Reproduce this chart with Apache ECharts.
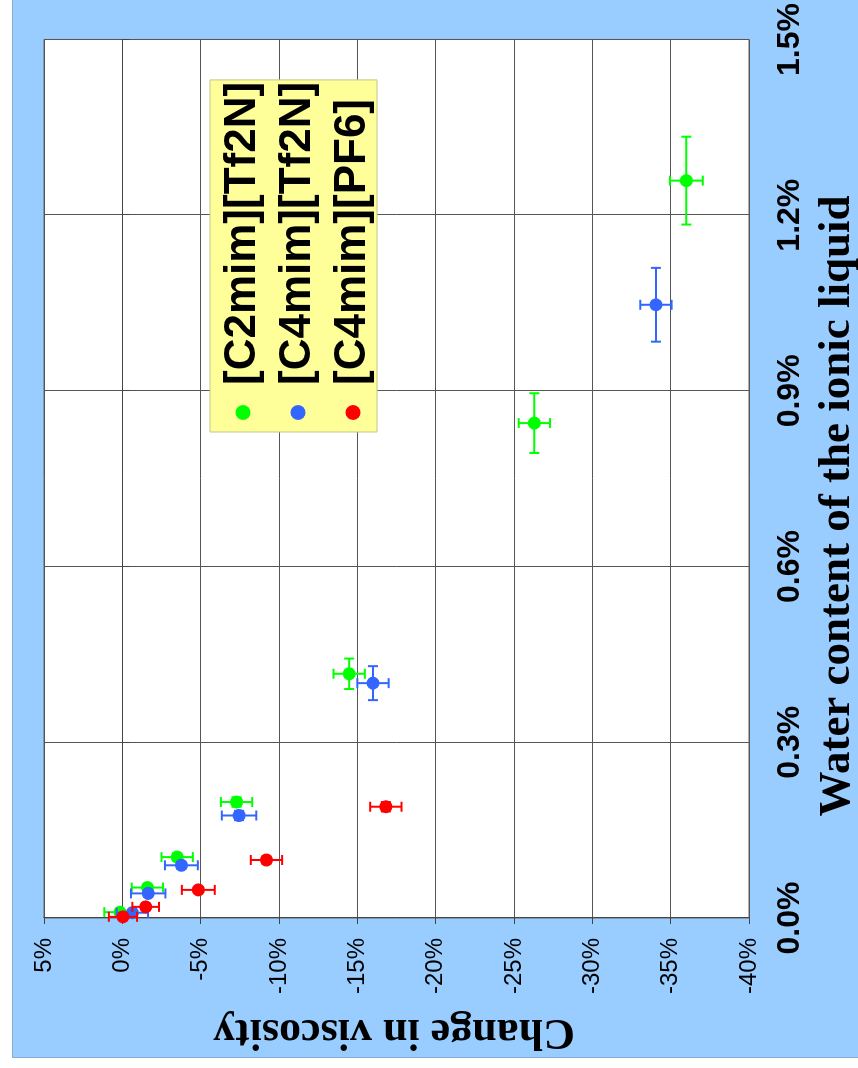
<!DOCTYPE html>
<html>
<head>
<meta charset="utf-8">
<script src="https://cdn.jsdelivr.net/npm/echarts@6/dist/echarts.min.js"></script>
<style>
  html, body { margin: 0; padding: 0; overflow: hidden; background: #fff; width: 858px; height: 1068px; }
  /* The chart is laid out landscape and turned a quarter turn counter-clockwise onto the page */
  #chart { position: absolute; left: 0; top: 0; width: 1068px; height: 858px;
           transform-origin: 0 0; transform: translate(0, 1068px) rotate(-90deg); }
</style>
</head>
<body>
<div id="chart"></div>
<script>
// Ionic liquids
const seriesNames = ['[C2mim][Tf2N]', '[C4mim][Tf2N]', '[C4mim][PF6]'];
const seriesColors = ['#00ff00', '#3366ff', '#ff0000'];

// [C2mim][Tf2N]: water content (%), change in viscosity (%), and their error ranges
const c2Tf2nWater    = [0.010, 0.052, 0.104, 0.198, 0.417, 0.845, 1.259];
const c2Tf2nVisc     = [0.15, -1.60, -3.50, -7.29, -14.48, -26.30, -36.00];
const c2Tf2nWaterErr = [0.004, 0.005, 0.006, 0.008, 0.026, 0.051, 0.075];
const c2Tf2nViscErr  = [1.0, 1.0, 1.0, 1.0, 1.0, 1.0, 1.05];

// [C4mim][Tf2N]
const c4Tf2nWater    = [0.009, 0.042, 0.090, 0.175, 0.401, 1.047];
const c4Tf2nVisc     = [-0.64, -1.65, -3.77, -7.45, -16.00, -34.06];
const c4Tf2nWaterErr = [0.004, 0.005, 0.006, 0.008, 0.029, 0.063];
const c4Tf2nViscErr  = [1.0, 1.1, 1.05, 1.1, 1.0, 1.0];

// [C4mim][PF6]
const c4Pf6Water     = [0.002, 0.019, 0.048, 0.099, 0.190];
const c4Pf6Visc      = [-0.04, -1.49, -4.85, -9.20, -16.82];
const c4Pf6WaterErr  = [0.003, 0.004, 0.005, 0.006, 0.008];
const c4Pf6ViscErr   = [0.9, 0.85, 1.05, 1.0, 1.0];

// Axis tick labels
const waterTickLabels = ['0.0%', '0.3%', '0.6%', '0.9%', '1.2%', '1.5%'];
const viscTickLabels  = ['-40%', '-35%', '-30%', '-25%', '-20%', '-15%', '-10%', '-5%', '0%', '5%'];

const groups = [
  [c2Tf2nWater, c2Tf2nVisc, c2Tf2nWaterErr, c2Tf2nViscErr],
  [c4Tf2nWater, c4Tf2nVisc, c4Tf2nWaterErr, c4Tf2nViscErr],
  [c4Pf6Water,  c4Pf6Visc,  c4Pf6WaterErr,  c4Pf6ViscErr]
];

const CAP = 5;
function errorBars(params, api) {
  const w = api.value(0), v = api.value(1), ew = api.value(2), ev = api.value(3);
  const l = api.coord([w - ew, v]), r = api.coord([w + ew, v]);
  const t = api.coord([w, v + ev]), b = api.coord([w, v - ev]);
  const style = { stroke: api.visual('color'), lineWidth: 2 };
  const seg = (x1, y1, x2, y2) => ({ type: 'line', shape: { x1, y1, x2, y2 }, style });
  return {
    type: 'group',
    children: [
      seg(l[0], l[1], r[0], r[1]),
      seg(l[0], l[1] - CAP, l[0], l[1] + CAP),
      seg(r[0], r[1] - CAP, r[0], r[1] + CAP),
      seg(t[0], t[1], b[0], b[1]),
      seg(t[0] - CAP, t[1], t[0] + CAP, t[1]),
      seg(b[0] - CAP, b[1], b[0] + CAP, b[1])
    ]
  };
}

const series = [];
groups.forEach((g, i) => {
  const [water, visc, we, ve] = g;
  series.push({
    name: seriesNames[i] + ' error',
    type: 'custom',
    renderItem: errorBars,
    itemStyle: { color: seriesColors[i] },
    data: water.map((w, k) => [w, visc[k], we[k], ve[k]]),
    silent: true,
    z: 2 + i * 2
  });
  series.push({
    name: seriesNames[i],
    type: 'scatter',
    symbol: 'circle',
    symbolSize: 13,
    itemStyle: { color: seriesColors[i], opacity: 1 },
    data: water.map((w, k) => [w, visc[k]]),
    z: 3 + i * 2
  });
});

const chart = echarts.init(document.getElementById('chart'), null, { renderer: 'canvas' });
chart.setOption({
  animation: false,
  backgroundColor: '#ffffff',
  graphic: [
    { type: 'rect', z: -10, shape: { x: 10.5, y: 12.5, width: 1100, height: 900 },
      style: { fill: '#99ccff', stroke: '#86acd2', lineWidth: 1 } },
    { type: 'text', x: 562, y: 837, z: 10,
      style: { text: 'Water content of the ionic liquid', fontFamily: '"Liberation Serif", "DejaVu Serif", serif',
               fontWeight: 'bold', fontSize: 45, fill: '#000', textAlign: 'center', textVerticalAlign: 'middle',
               align: 'center', verticalAlign: 'middle' } },
    { type: 'text', x: 37, y: 394, rotation: Math.PI / 2, z: 10,
      style: { text: 'Change in viscosity', fontFamily: '"Liberation Serif", "DejaVu Serif", serif',
               fontWeight: 'bold', fontSize: 44, fill: '#000', textAlign: 'center', textVerticalAlign: 'middle',
               align: 'center', verticalAlign: 'middle' } }
  ],
  grid: {
    left: 150, right: 37, top: 44, bottom: 109,
    show: true, backgroundColor: '#ffffff', borderColor: '#666', borderWidth: 1
  },
  legend: {
    orient: 'vertical', left: 636, top: 210,
    data: seriesNames.map(n => ({ name: n, icon: 'circle' })),
    itemWidth: 15, itemHeight: 15, itemGap: 11,
    padding: [11, 2, 2, 12],
    backgroundColor: '#ffff99', borderColor: '#c4c48a', borderWidth: 1,
    selectedMode: false,
    textStyle: { fontFamily: '"Liberation Sans", Arial, sans-serif', fontWeight: 'bold', fontSize: 44,
                 color: '#000', padding: [0, 0, 0, 15] }
  },
  xAxis: {
    type: 'value', min: 0, max: 1.5, interval: 0.3,
    axisLine: { show: true, lineStyle: { color: '#444', width: 1 } },
    axisTick: { show: true, inside: false, length: 7, lineStyle: { color: '#444' } },
    splitLine: { show: true, lineStyle: { color: '#555', width: 1 } },
    axisLabel: {
      margin: 25, color: '#000', fontSize: 32, fontWeight: 'bold',
      fontFamily: '"Liberation Sans", Arial, sans-serif',
      formatter: v => waterTickLabels[Math.round(v / 0.3)]
    }
  },
  yAxis: {
    type: 'value', min: -40, max: 5, interval: 5,
    axisLine: { show: true, lineStyle: { color: '#444', width: 1 } },
    axisTick: { show: true, inside: false, length: 6, lineStyle: { color: '#444' } },
    splitLine: { show: true, lineStyle: { color: '#555', width: 1 } },
    axisLabel: {
      margin: 20, color: '#000', fontSize: 24,
      fontFamily: '"Liberation Sans", Arial, sans-serif',
      formatter: v => viscTickLabels[Math.round((v + 40) / 5)]
    }
  },
  series: series
});
</script>
</body>
</html>
